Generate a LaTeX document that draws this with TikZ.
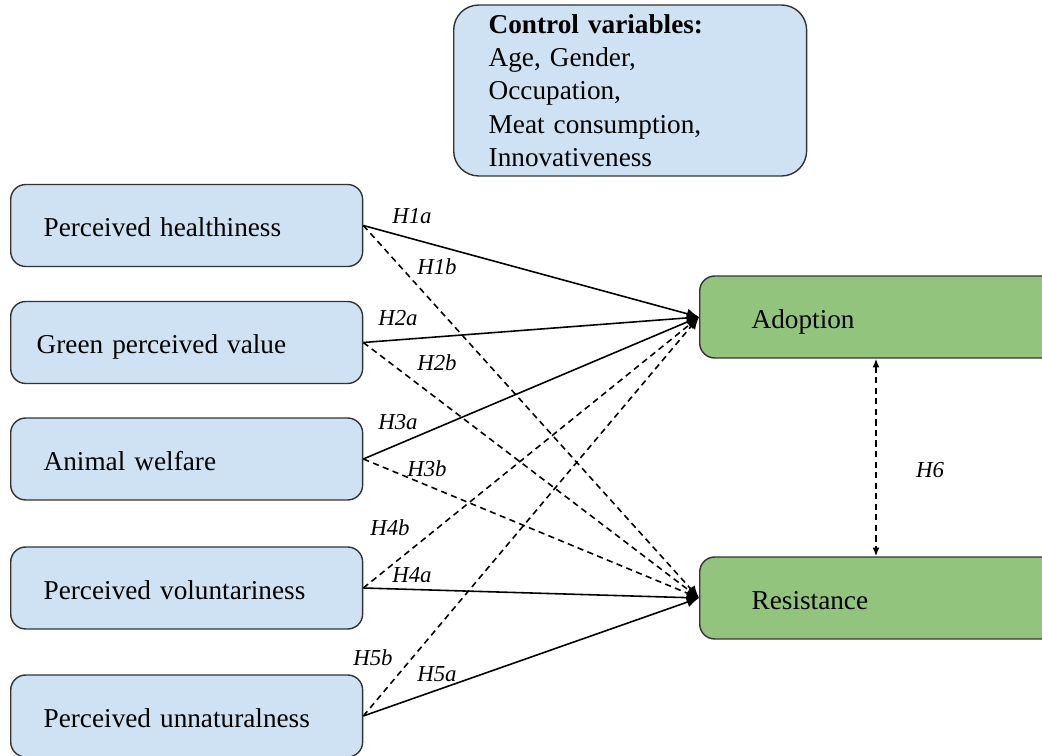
\documentclass[tikz,border=0pt]{standalone}
\usepackage{fontspec}
\setmainfont{Liberation Serif}
\usetikzlibrary{arrows.meta}
\definecolor{boxblue}{HTML}{CFE2F3}
\definecolor{boxgreen}{HTML}{93C47D}
\begin{document}
\begin{tikzpicture}[x=0.02cm,y=-0.02cm,
  box/.style={draw=black!80,line width=.8pt,rounded corners=.3cm,fill=boxblue,anchor=west,
    align=left,font=\fontsize{15.5}{19}\selectfont},
  var/.style={box,minimum height=1.64cm,text width=5.72cm,inner xsep=.66cm,
    text height=17pt,text depth=4pt},
  outcome/.style={var,fill=boxgreen,text width=5.92cm,inner xsep=1.04cm},
  hyp/.style={font=\fontsize{13}{15}\selectfont\itshape},
  link/.style={line width=.9pt,-{Latex[length=7pt,width=6pt]}},
  alt/.style={link,dash pattern=on 3.5pt off 2.5pt}]
  \useasboundingbox (0,0) rectangle (1042,756);
  \clip (0,0) rectangle (1042,756);
  % control variables
  \node[box,rounded corners=.5cm,minimum height=3.42cm,text width=5.66cm,inner xsep=.7cm] (ctrl) at (453,90.5)
    {\textbf{Control variables:}\\Age, Gender,\\Occupation,\\Meat consumption,\\Innovativeness};
  % antecedents
  \node[var] (health) at (10,225.5) {Perceived healthiness};
  \node[var,inner xsep=.52cm,text width=6cm] (green) at (10,342.5) {Green perceived value};
  \node[var] (animal) at (10,459) {Animal welfare};
  \node[var] (volun) at (10,588) {Perceived voluntariness};
  \node[var] (unnat) at (10,716) {Perceived unnaturalness};
  % outcomes
  \node[outcome] (adopt) at (699,317) {Adoption};
  \node[outcome] (resist) at (699,598) {Resistance};
  % paths
  \draw[link] (health.east) -- (adopt.west);
  \draw[alt] (health.east) -- (resist.west);
  \draw[link] (green.east) -- (adopt.west);
  \draw[alt] (green.east) -- (resist.west);
  \draw[link] (animal.east) -- (adopt.west);
  \draw[alt] (animal.east) -- (resist.west);
  \draw[link] (volun.east) -- (resist.west);
  \draw[alt] (volun.east) -- (adopt.west);
  \draw[link] (unnat.east) -- (resist.west);
  \draw[alt] (unnat.east) -- (adopt.west);
  \draw[alt,{Latex[length=5pt,width=4pt]}-{Latex[length=5pt,width=4pt]}] (876,0 |- adopt.south) -- (876,0 |- resist.north);
  % labels
  \node[hyp] (h1a) at (412,216) {H1a};
  \node[hyp] (h1b) at (437,267) {H1b};
  \node[hyp] (h2a) at (398,318) {H2a};
  \node[hyp] (h2b) at (437,363) {H2b};
  \node[hyp] (h3a) at (398,422) {H3a};
  \node[hyp] (h3b) at (427,469) {H3b};
  \node[hyp] (h4b) at (390,528) {H4b};
  \node[hyp] (h4a) at (412,575) {H4a};
  \node[hyp] (h5b) at (373,658) {H5b};
  \node[hyp] (h5a) at (437,674) {H5a};
  \node[hyp] (h6) at (930,470) {H6};
\end{tikzpicture}
\end{document}
